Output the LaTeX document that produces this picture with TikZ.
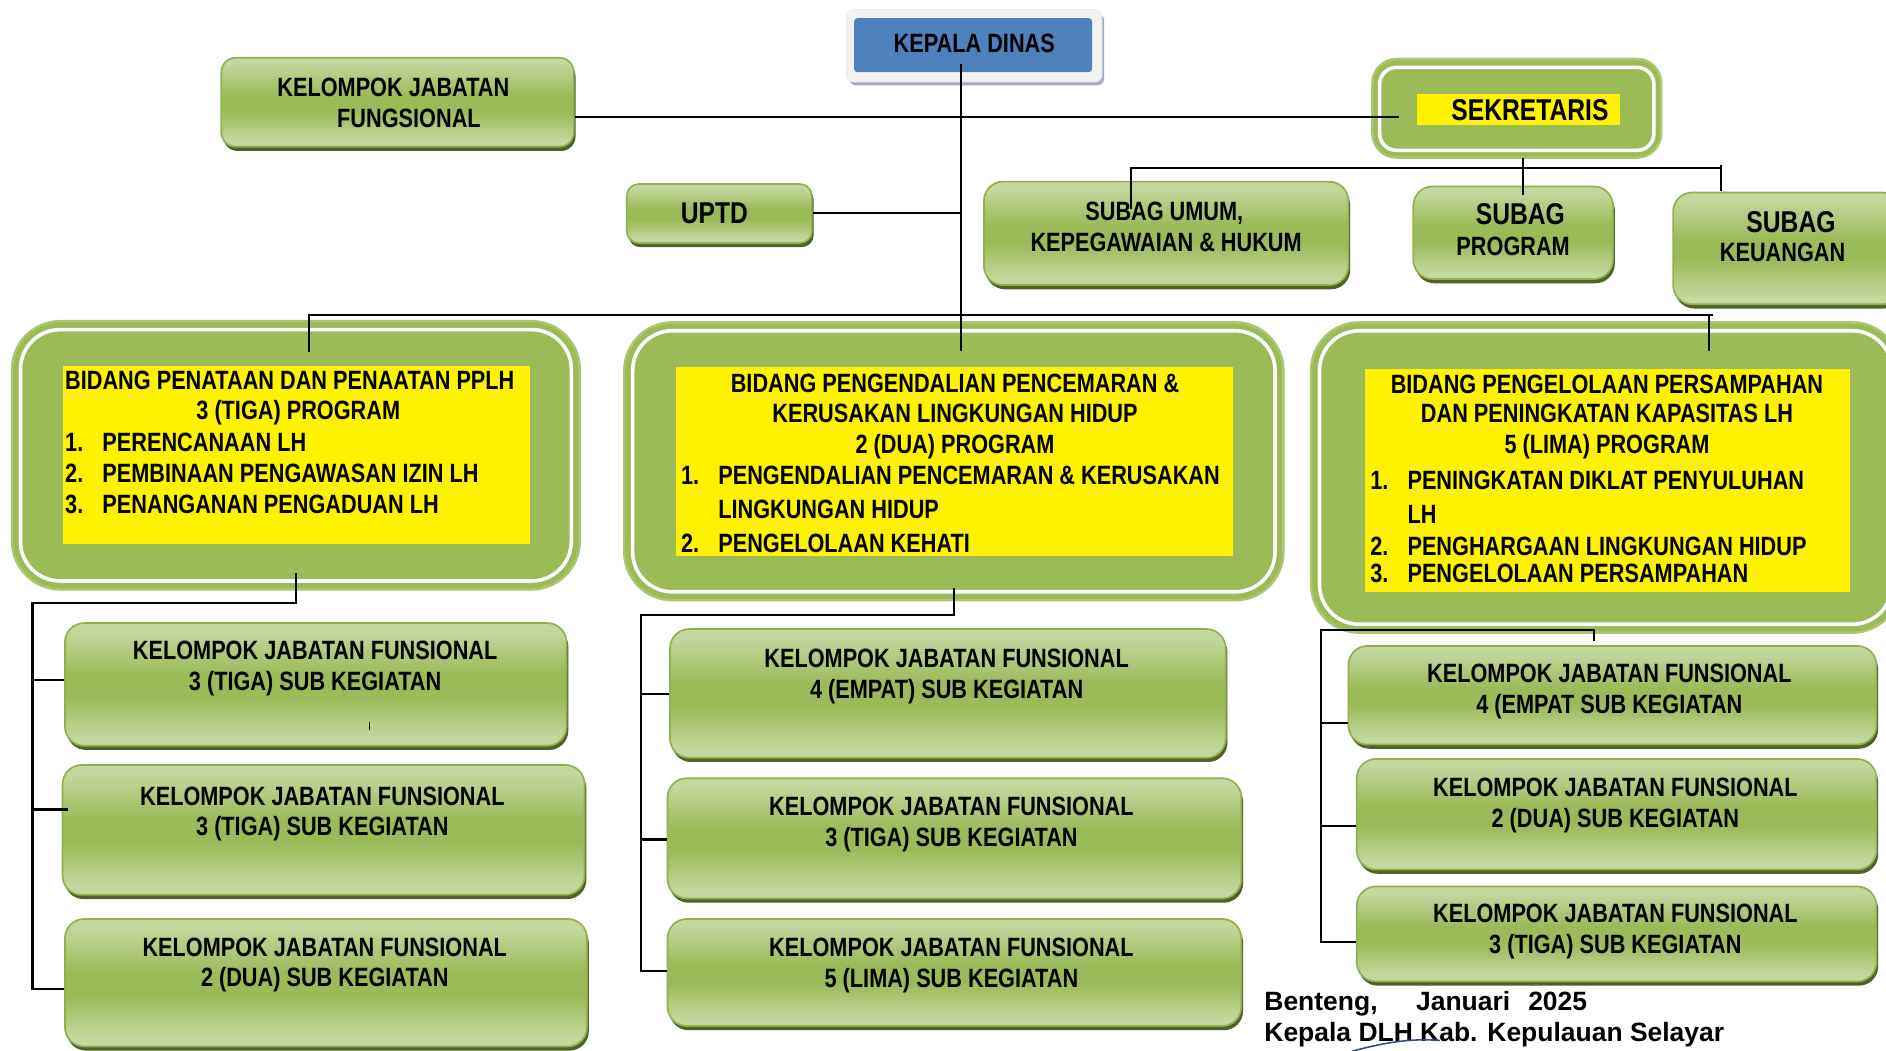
\documentclass[tikz,border=0pt]{standalone}
\usepackage{fontspec}
\setmainfont{Liberation Sans}
\newfontfamily\narrowfont{Liberation Sans}[FakeStretch=0.82]
\usetikzlibrary{shadows}
\definecolor{gL}{HTML}{C4D79E}
\definecolor{gM}{HTML}{9BBB59}
\definecolor{gS}{HTML}{4F6228}
\definecolor{gB}{HTML}{8FB24F}
\definecolor{gR}{HTML}{AAC66F}
\definecolor{kdBlue}{HTML}{4F81BD}
\definecolor{kdFrame}{HTML}{F2F2F2}
\definecolor{kdShadow}{HTML}{A3ADBF}
\definecolor{sigBlue}{HTML}{2E4A8A}
\pgfdeclareverticalshading{gbar}{100bp}{color(0bp)=(gL); color(28bp)=(gL); color(45bp)=(gM); color(54bp)=(gM); color(72bp)=(gL); color(100bp)=(gL)}
\begin{document}
\begin{tikzpicture}[x=1pt,y=-1pt,
 gbox/.style={rectangle, rounded corners=16pt, draw=gB, line width=1.4pt, shading=gbar,
   drop shadow={shadow xshift=1.5pt, shadow yshift=-3.5pt, fill=gS, opacity=1}},
 bidang/.style={rectangle, rounded corners=40pt, fill=gM, draw=gR, line width=2pt},
 ybox/.style={rectangle, fill=yellow, inner sep=0pt},
 tx/.style={font=\narrowfont\bfseries\fontsize{22}{26}\selectfont, inner sep=0pt, text height=16pt, text depth=0pt},
 txb/.style={font=\narrowfont\bfseries\fontsize{25}{28}\selectfont, inner sep=0pt, text height=18pt, text depth=0pt},
 conn/.style={draw=black, line width=1.8pt},
 inline/.style={draw=white, line width=3pt},
 sigtx/.style={font=\bfseries\fontsize{22}{26}\selectfont, inner sep=0pt, anchor=base west}
]
\useasboundingbox (0,0) rectangle (1568,873);
\fill[white] (0,0) rectangle (1568,873);
\clip (0,0) rectangle (1568,873);

% ---------- top level ----------
\node[rectangle, rounded corners=6pt, fill=kdFrame, draw=white!85!gray, line width=1pt,
  drop shadow={shadow xshift=2pt, shadow yshift=-3pt, fill=kdShadow, opacity=1},
  minimum width=212pt, minimum height=60pt] (kdF) at (810,38) {};
\node[rectangle, rounded corners=3pt, fill=kdBlue, minimum width=198pt, minimum height=45pt] (kd) at (809,37.5) {};
\node[tx] (kdT) at (810,36) {KEPALA DINAS};

\node[gbox, rounded corners=12pt, minimum width=293pt, minimum height=74pt] (kjf) at (330.5,85) {};
\node[tx] (kjfT1) at (327,72) {KELOMPOK JABATAN};
\node[tx] (kjfT2) at (340,98) {FUNGSIONAL};

\node[bidang, rounded corners=20pt, minimum width=240pt, minimum height=82pt] (sekO) at (1261,90) {};
\draw[inline, rounded corners=14pt] ([xshift=7pt,yshift=-8pt]sekO.north west) rectangle ([xshift=-7pt,yshift=7pt]sekO.south east);
\node[ybox, minimum width=169pt, minimum height=26pt] (sekY) at (1262.5,91) {};
\node[txb] (sekT) at (1272,91) {SEKRETARIS};

\node[gbox, rounded corners=10pt, minimum width=154pt, minimum height=49pt] (uptd) at (598,177.5) {};
\node[txb] (uptdT) at (594,177) {UPTD};

\node[gbox, minimum width=303pt, minimum height=86pt] (subum) at (969.5,194) {};
\node[tx] (subumT1) at (968,175) {SUBAG UMUM,};
\node[tx] (subumT2) at (969.5,201) {KEPEGAWAIAN \& HUKUM};

\node[gbox, minimum width=166pt, minimum height=77pt] (subprog) at (1258,193.5) {};
\node[txb] (subprogT1) at (1264,178) {SUBAG};
\node[tx] (subprogT2) at (1258,204) {PROGRAM};

\node[gbox, minimum width=189pt, minimum height=93pt] (subkeu) at (1485.5,206.5) {};
\node[txb] (subkeuT1) at (1489,184) {SUBAG};
\node[tx] (subkeuT2) at (1482,209) {KEUANGAN};

% ---------- bidang ----------
\node[bidang, minimum width=472pt, minimum height=223pt] (bl) at (246,378.5) {};
\draw[inline, rounded corners=33pt] ([xshift=8pt,yshift=-8pt]bl.north west) rectangle ([xshift=-8pt,yshift=8pt]bl.south east);
\node[ybox, minimum width=389pt, minimum height=148pt] (blY) at (246.5,378) {};
\node[tx, anchor=west] (bl1) at (54,316) {BIDANG PENATAAN DAN PENAATAN PPLH};
\node[tx] (bl2) at (248,341) {3 (TIGA) PROGRAM};
\node[tx, anchor=west] (bl3) at (54,367) {\makebox[31pt][l]{1.}PERENCANAAN LH};
\node[tx, anchor=west] (bl4) at (54,393) {\makebox[31pt][l]{2.}PEMBINAAN PENGAWASAN IZIN LH};
\node[tx, anchor=west] (bl5) at (54,419) {\makebox[31pt][l]{3.}PENANGANAN PENGADUAN LH};

\node[bidang, minimum width=548pt, minimum height=231pt] (bm) at (793,383.5) {};
\draw[inline, rounded corners=33pt] ([xshift=8pt,yshift=-8pt]bm.north west) rectangle ([xshift=-8pt,yshift=8pt]bm.south east);
\node[ybox, minimum width=463pt, minimum height=157pt] (bmY) at (793.5,383.5) {};
\node[tx] (bm1) at (794,318) {BIDANG PENGENDALIAN PENCEMARAN \&};
\node[tx] (bm2) at (794,343) {KERUSAKAN LINGKUNGAN HIDUP};
\node[tx] (bm3) at (794,369) {2 (DUA) PROGRAM};
\node[tx, anchor=west] (bm4) at (566,395) {\makebox[31pt][l]{1.}PENGENDALIAN PENCEMARAN \& KERUSAKAN};
\node[tx, anchor=west] (bm5) at (597,423) {LINGKUNGAN HIDUP};
\node[tx, anchor=west] (bm6) at (566,451) {\makebox[31pt][l]{2.}PENGELOLAAN KEHATI};

\node[bidang, minimum width=490pt, minimum height=258pt] (br) at (1335,397) {};
\draw[inline, rounded corners=33pt] ([xshift=8pt,yshift=-8pt]br.north west) rectangle ([xshift=-8pt,yshift=8pt]br.south east);
\node[ybox, minimum width=403pt, minimum height=185pt] (brY) at (1336.5,399.5) {};
\node[tx] (br1) at (1336,319) {BIDANG PENGELOLAAN PERSAMPAHAN};
\node[tx] (br2) at (1336,343) {DAN PENINGKATAN KAPASITAS LH};
\node[tx] (br3) at (1336,369) {5 (LIMA) PROGRAM};
\node[tx, anchor=west] (br4) at (1139,399) {\makebox[31pt][l]{1.}PENINGKATAN DIKLAT PENYULUHAN};
\node[tx, anchor=west] (br5) at (1170,427) {LH};
\node[tx, anchor=west] (br6) at (1139,454) {\makebox[31pt][l]{2.}PENGHARGAAN LINGKUNGAN HIDUP};
\node[tx, anchor=west] (br7) at (1139,476) {\makebox[31pt][l]{3.}PENGELOLAAN PERSAMPAHAN};

% ---------- kelompok jabatan fungsional ----------
\node[gbox, minimum width=417pt, minimum height=102pt] (kl1) at (262.5,569) {};
\node[tx] (kl1a) at (262,540) {KELOMPOK JABATAN FUNSIONAL};
\node[tx] (kl1b) at (262,566) {3 (TIGA) SUB KEGIATAN};
\node[gbox, minimum width=434pt, minimum height=108pt] (kl2) at (269,690) {};
\node[tx] (kl2a) at (268,662) {KELOMPOK JABATAN FUNSIONAL};
\node[tx] (kl2b) at (268,687) {3 (TIGA) SUB KEGIATAN};
\node[gbox, minimum width=434pt, minimum height=106pt] (kl3) at (271,817) {};
\node[tx] (kl3a) at (270,787) {KELOMPOK JABATAN FUNSIONAL};
\node[tx] (kl3b) at (270,812) {2 (DUA) SUB KEGIATAN};

\node[gbox, minimum width=462pt, minimum height=107pt] (km1) at (788,576.5) {};
\node[tx] (km1a) at (787,547) {KELOMPOK JABATAN FUNSIONAL};
\node[tx] (km1b) at (787,573) {4 (EMPAT) SUB KEGIATAN};
\node[gbox, minimum width=477pt, minimum height=100pt] (km2) at (793.5,697) {};
\node[tx] (km2a) at (791,670) {KELOMPOK JABATAN FUNSIONAL};
\node[tx] (km2b) at (791,696) {3 (TIGA) SUB KEGIATAN};
\node[gbox, minimum width=477pt, minimum height=89pt] (km3) at (793.5,808.5) {};
\node[tx] (km3a) at (791,787) {KELOMPOK JABATAN FUNSIONAL};
\node[tx] (km3b) at (791,813) {5 (LIMA) SUB KEGIATAN};

\node[gbox, minimum width=439pt, minimum height=82pt] (kr1) at (1340.5,578) {};
\node[tx] (kr1a) at (1338,559) {KELOMPOK JABATAN FUNSIONAL};
\node[tx] (kr1b) at (1338,585) {4 (EMPAT SUB KEGIATAN};
\node[gbox, minimum width=432pt, minimum height=92pt] (kr2) at (1344,677) {};
\node[tx] (kr2a) at (1343,654) {KELOMPOK JABATAN FUNSIONAL};
\node[tx] (kr2b) at (1343,680) {2 (DUA) SUB KEGIATAN};
\node[gbox, minimum width=432pt, minimum height=79pt] (kr3) at (1344,776.5) {};
\node[tx] (kr3a) at (1343,759) {KELOMPOK JABATAN FUNSIONAL};
\node[tx] (kr3b) at (1343,785) {3 (TIGA) SUB KEGIATAN};

\draw[black, line width=1.2pt] (307,600) -- (307,607);

% ---------- signature ----------
\node[sigtx] (sig1) at (1051,840) {Benteng,\hspace{32pt}Januari\hspace{15pt}2025};
\node[sigtx] (sig2) at (1051,866) {Kepala DLH Kab. Kepulauan Selayar};
\draw[sigBlue, line width=1.3pt] (1124,874) .. controls (1150,867) and (1172,863) .. (1197,865);

% ---------- connectors ----------
\coordinate (trTop) at (799,53);
\coordinate (trBot) at (799,292);
\draw[conn] (trTop) -- (trBot);
\coordinate (sekIn) at (1163,97);
\draw[conn] (kjf.east |- sekIn) -- (sekIn);
\coordinate (jU) at (799,177);
\draw[conn] (uptd.east |- jU) -- (jU);
\coordinate (sekB) at (1266,131);
\draw[conn] (sekB) -- (1266,162);
\coordinate (sbL) at (940,140);
\coordinate (sbR) at (1431,140);
\draw[conn] (940,174) -- (sbL) -- (sbR);
\draw[conn] (1431,137) -- (1431,159);
\coordinate (mbL) at (257,262);
\coordinate (mbR) at (1421,262);
\draw[conn] (257,293) -- (mbL) -- (mbR) -- (1421,292);
\draw[conn] (mbR) -- (1424,262);
% left column
\draw[conn] (246,476) -- (246,501) -- (27,501) -- (27,822) -- (kl3.west |- 0,822);
\draw[conn] (27,565) -- (kl1.west |- 0,565);
\draw[conn, line width=2.6pt] (27,673) -- ([xshift=5pt]kl2.west |- 0,673);
% middle column
\draw[conn] (793,489) -- (793,511) -- (533,511) -- (533,807) -- (km3.west |- 0,807);
\draw[conn] (533,577) -- (km1.west |- 0,577);
\draw[conn] (533,698) -- (km2.west |- 0,698);
% right column
\draw[conn] (1325,533) -- (1325,524) -- (1098,524) -- (1098,783) -- (kr3.west |- 0,783);
\draw[conn] (1098,601) -- (kr1.west |- 0,601);
\draw[conn] (1098,687) -- (kr2.west |- 0,687);
\end{tikzpicture}
\end{document}
